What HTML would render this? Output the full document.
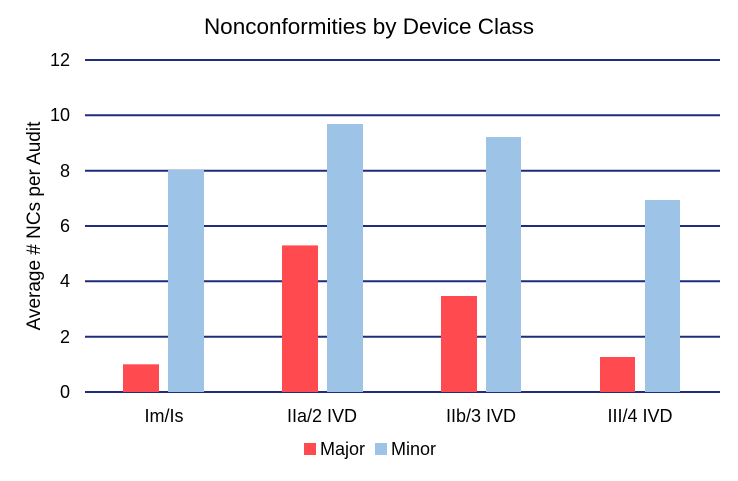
<!DOCTYPE html>
<html><head><style>body{margin:0;background:#fff}</style></head><body>
<svg width="738" height="476" xmlns="http://www.w3.org/2000/svg" font-family="Liberation Sans, sans-serif">
<rect width="738" height="476" fill="#fff"/>
<text x="369" y="34" font-size="22.5" text-anchor="middle" fill="#000">Nonconformities by Device Class</text>
<g stroke="#1f2d7a" stroke-width="2">
<line x1="85" x2="720" y1="60" y2="60"/><line x1="85" x2="720" y1="115.3" y2="115.3"/>
<line x1="85" x2="720" y1="170.7" y2="170.7"/><line x1="85" x2="720" y1="226" y2="226"/>
<line x1="85" x2="720" y1="281.3" y2="281.3"/><line x1="85" x2="720" y1="336.7" y2="336.7"/>
<line x1="85" x2="720" y1="392" y2="392"/>
</g>
<g font-size="18" text-anchor="end" fill="#000">
<text x="70" y="66">12</text><text x="70" y="121">10</text><text x="70" y="177">8</text>
<text x="70" y="232">6</text><text x="70" y="287">4</text><text x="70" y="343">2</text><text x="70" y="398">0</text>
</g>
<text transform="translate(40,226) rotate(-90)" font-size="19" text-anchor="middle">Average # NCs per Audit</text>
<g fill="#ff4b50">
<rect x="123" y="364.3" width="36" height="27.7"/>
<rect x="282" y="245.4" width="36" height="146.6"/>
<rect x="441" y="296" width="36" height="96"/>
<rect x="600" y="357" width="35" height="35"/>
</g>
<g fill="#9dc3e6">
<rect x="168" y="170" width="36" height="222"/>
<rect x="327" y="124" width="36" height="268"/>
<rect x="486" y="137" width="35" height="255"/>
<rect x="645" y="200" width="35" height="192"/>
</g>
<g font-size="18" text-anchor="middle" fill="#000">
<text x="164" y="422">Im/Is</text><text x="322" y="422">IIa/2 IVD</text>
<text x="481" y="422">IIb/3 IVD</text><text x="640" y="422">III/4 IVD</text>
</g>
<rect x="304" y="443" width="12" height="12" fill="#ff4b50"/>
<text x="320" y="455" font-size="18">Major</text>
<rect x="375" y="443" width="12" height="12" fill="#9dc3e6"/>
<text x="391" y="455" font-size="18">Minor</text>
</svg>
</body></html>
